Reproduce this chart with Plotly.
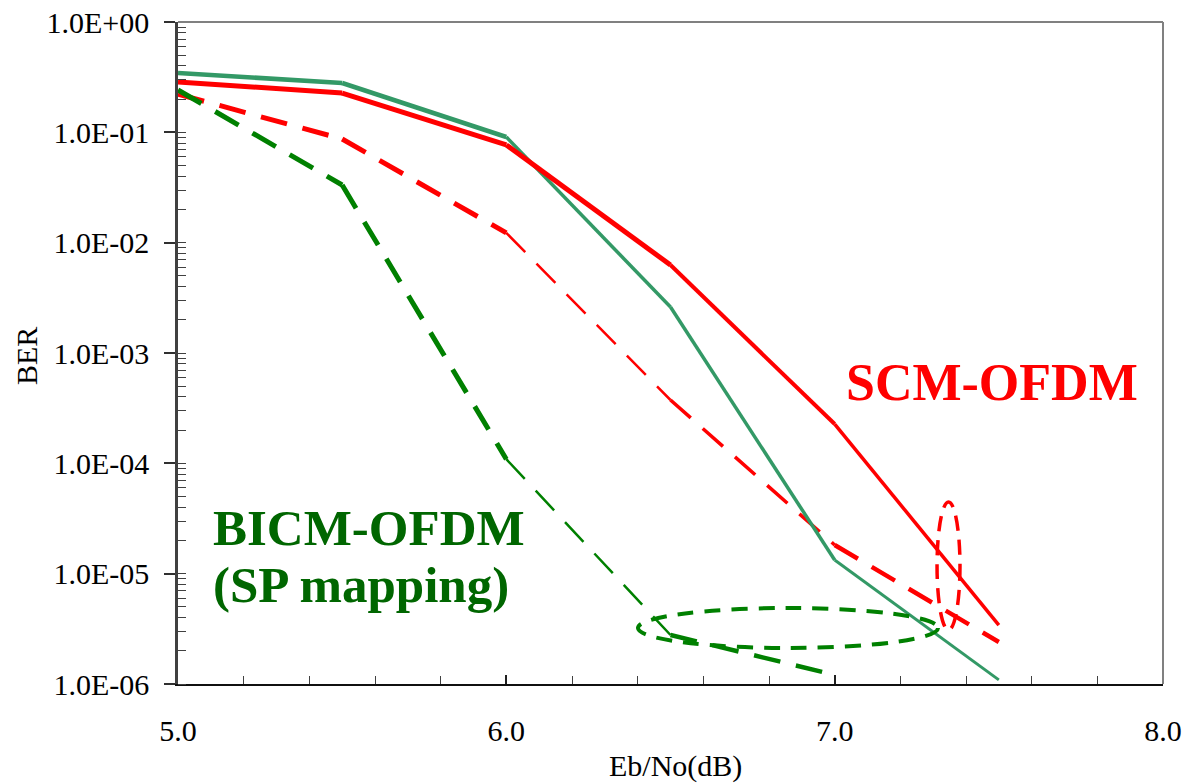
import plotly.graph_objects as go

# ---------------- data ----------------
ebno = [5.0, 5.5, 6.0, 6.5, 7.0, 7.5]
ber_scm_solid = [0.286, 0.227, 0.0768, 6.27e-3, 2.27e-4, 3.42e-6]
ber_bicm_solid = [0.345, 0.280, 0.0907, 2.61e-3, 1.33e-5, 1.09e-6]
ber_scm_dash = [0.222, 0.087, 0.01225, 3.75e-4, 1.82e-5, 2.4e-6]
ber_bicm_dash = [0.242, 0.0333, 1.09e-4, 2.78e-6, 1.21e-6]
ebno_bicm_dash = [5.0, 5.5, 6.0, 6.5, 7.0]

y_tickvals = [1e-6, 1e-5, 1e-4, 1e-3, 1e-2, 1e-1, 1e0]
y_ticktext = ["1.0E-06", "1.0E-05", "1.0E-04", "1.0E-03", "1.0E-02", "1.0E-01", "1.0E+00"]

# ---------------- styles ----------------
RED = "#FF0000"
SEA = "#339966"
GREEN = "#008000"
TXTGREEN = "#006600"
DASH = "27px,16px"

series = [
    # x, y, color, dash, per-segment widths
    (ebno, ber_scm_dash, RED, DASH, [5, 5, 2.5, 3.5, 4.5]),
    (ebno_bicm_dash, ber_bicm_dash, GREEN, DASH, [5, 5, 2.5, 4.5]),
    (ebno, ber_bicm_solid, SEA, "solid", [4.5, 4.5, 3.5, 3.5, 3]),
    (ebno, ber_scm_solid, RED, "solid", [5, 5, 5, 4, 3.5]),
]

fig = go.Figure()
for xs, ys, color, dash, widths in series:
    for i in range(len(xs) - 1):
        fig.add_trace(go.Scatter(
            x=xs[i:i + 2], y=ys[i:i + 2], mode="lines",
            line=dict(color=color, width=widths[i], dash=dash),
            showlegend=False, hoverinfo="skip"))

FONT = "Liberation Serif, Times New Roman, serif"

fig.update_layout(
    width=1186, height=783,
    margin=dict(l=178, r=23, t=22, b=99, autoexpand=False),
    paper_bgcolor="white", plot_bgcolor="white",
    font=dict(family=FONT, size=30, color="black"),
    showlegend=False,
)

fig.update_xaxes(
    range=[5, 8], tickmode="linear", tick0=5, dtick=1, tickformat=".1f",
    ticks="inside", ticklen=9, tickwidth=1.5, tickcolor="#202020",
    showline=True, linecolor="#101010", linewidth=2,
    showgrid=False, zeroline=False, automargin=False,
    ticklabelstandoff=19,
    minor=dict(ticks="inside", ticklen=8, tickwidth=1.2, tickcolor="#404040",
               dtick=0.2, tick0=5, showgrid=False),
    tickfont=dict(family=FONT, size=30, color="black"),
)
fig.update_yaxes(
    type="log", range=[-6, 0],
    tickmode="array", tickvals=y_tickvals, ticktext=y_ticktext,
    ticks="outside", ticklen=11, tickwidth=1.5, tickcolor="#303030",
    showline=True, linecolor="#404040", linewidth=2.5,
    showgrid=False, zeroline=False, automargin=False,
    ticklabelstandoff=9,
    minor=dict(ticks="inside", ticklen=8, tickwidth=1.2, tickcolor="#404040",
               dtick="D1", showgrid=False),
    tickfont=dict(family=FONT, size=30, color="black"),
)

# plot-area border (top and right)
fig.add_shape(type="line", xref="paper", yref="paper", x0=0, x1=1, y0=1, y1=1,
              line=dict(color="#808080", width=2))
fig.add_shape(type="line", xref="paper", yref="paper", x0=1, x1=1, y0=0, y1=1,
              line=dict(color="#808080", width=2))

# dashed ellipses
fig.add_shape(type="circle", xref="paper", yref="paper",
              x0=0.467, x1=0.7716, y0=0.0544, y1=0.1148,
              line=dict(color=GREEN, width=4, dash="16px,11px"))
fig.add_shape(type="circle", xref="paper", yref="paper",
              x0=0.7706, x1=0.7939, y0=0.0816, y1=0.2749,
              line=dict(color=RED, width=3.5, dash="15px,9px"))

# text labels
fig.add_annotation(text="<b>SCM-OFDM</b>", xref="paper", yref="paper",
                   x=0.8264, y=0.4547, xanchor="center", yanchor="middle",
                   showarrow=False, font=dict(family=FONT, size=52, color=RED))
fig.add_annotation(text="<b>BICM-OFDM</b>", xref="paper", yref="paper",
                   x=0.0335, y=0.2356, xanchor="left", yanchor="middle",
                   showarrow=False, font=dict(family=FONT, size=51, color=TXTGREEN))
fig.add_annotation(text="<b>(SP mapping)</b>", xref="paper", yref="paper",
                   x=0.0335, y=0.1496, xanchor="left", yanchor="middle",
                   showarrow=False, font=dict(family=FONT, size=51, color=TXTGREEN))

# axis titles
fig.add_annotation(text="Eb/No(dB)", xref="paper", yref="paper",
                   x=0.5046, y=-0.1239, xanchor="center", yanchor="middle",
                   showarrow=False, font=dict(family=FONT, size=30, color="black"))
fig.add_annotation(text="BER", xref="paper", yref="paper",
                   x=-0.1533, y=0.4955, xanchor="center", yanchor="middle",
                   textangle=-90, showarrow=False,
                   font=dict(family=FONT, size=30, color="black"))

fig.write_html("out.html", config={"displayModeBar": False},
               post_script="document.body.style.margin='0';")
